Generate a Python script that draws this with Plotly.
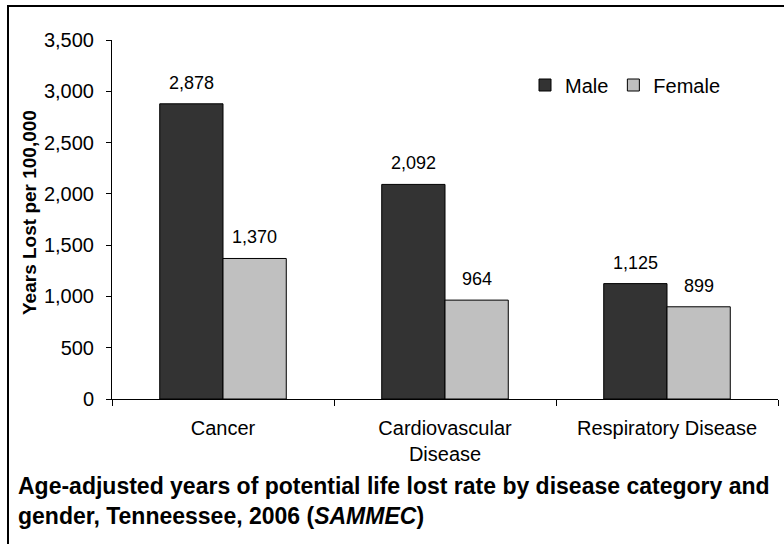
import plotly.graph_objects as go

categories = ["Cancer", "Cardiovascular<br>Disease", "Respiratory Disease"]
male = [2878, 2092, 1125]
female = [1370, 964, 899]
series_names = ["Male", "Female"]
colors = ["#333333", "#c0c0c0"]

L, R, T, B = 112, 6, 40, 145
W, H = 784, 544
pw = W - L - R
ph = H - T - B
BARGAP = 0.43

def px_x(x):
    return (x - L) / pw

def px_y(y):
    return (H - B - y) / ph

font = "Liberation Sans, Arial, sans-serif"

fig = go.Figure()
annotations = []
bar_w_px = (1 - BARGAP) / 2 * pw / len(categories)
for i, (name, vals, col) in enumerate(zip(series_names, [male, female], colors)):
    fig.add_trace(go.Bar(
        name=name, x=categories, y=vals,
        marker=dict(color=col, line=dict(color="black", width=1)),
        cliponaxis=False,
    ))
    shift = (i - 0.5) * bar_w_px
    for c, v in zip(categories, vals):
        annotations.append(dict(
            x=c, y=v, xref="x", yref="y", text=f"{v:,}", showarrow=False,
            xshift=shift, yshift=9, yanchor="bottom", xanchor="center",
            font=dict(size=18, color="black"),
        ))

annotations += [
    dict(text="<b>Years Lost per 100,000</b>", xref="paper", yref="paper", x=px_x(29), y=px_y(213),
         textangle=-90, showarrow=False, font=dict(size=19), xanchor="center", yanchor="middle"),
    dict(text="<b>Age-adjusted years of potential life lost rate by disease category and<br>gender, Tenneessee, 2006 (<i>SAMMEC</i>)</b>",
         xref="paper", yref="paper", x=px_x(16), y=px_y(471), xanchor="left", yanchor="top",
         align="left", showarrow=False, font=dict(size=23)),
]

fig.update_layout(
    width=W, height=H,
    margin=dict(l=L, r=R, t=T, b=B),
    paper_bgcolor="white", plot_bgcolor="white",
    barmode="group", bargap=BARGAP, bargroupgap=0,
    font=dict(family=font, size=20, color="black"),
    showlegend=True,
    legend=dict(orientation="h", x=px_x(525), y=px_y(85), xanchor="left", yanchor="middle",
                font=dict(size=20), bgcolor="rgba(0,0,0,0)", itemwidth=30, traceorder="normal",
                borderwidth=0),
    xaxis=dict(showline=True, linecolor="black", linewidth=1, ticks="outside", tickson="boundaries",
               ticklen=6, tickcolor="black", tickfont=dict(size=20), showgrid=False,
               ticklabelstandoff=11),
    yaxis=dict(range=[0, 3500], dtick=500, tickformat=",", showline=True, linecolor="black", linewidth=1,
               ticks="outside", ticklen=5, tickcolor="black", tickfont=dict(size=20), showgrid=False,
               zeroline=False, ticklabelstandoff=8),
    shapes=[dict(type="rect", xref="paper", yref="paper",
                 x0=px_x(8), x1=px_x(800), y0=px_y(560), y1=px_y(6),
                 line=dict(color="black", width=2), fillcolor="rgba(0,0,0,0)")],
    annotations=annotations,
)

fig.write_html("out.html", config={"displayModeBar": False},
               post_script="document.body.style.margin='0';document.body.style.overflow='hidden';")
